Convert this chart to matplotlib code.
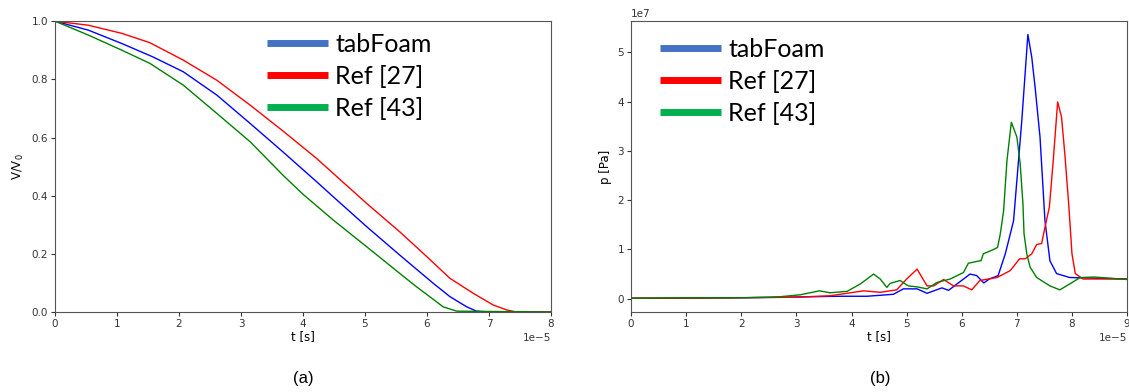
import matplotlib
matplotlib.use("Agg")
import matplotlib.pyplot as plt
from matplotlib.lines import Line2D
import numpy as np

# ---- Data (a): volume ratio V/V0 vs t (units 1e-5 s) ----
t_a_tab = [0, 0.54, 1.08, 1.57, 2.07, 2.61, 3.15, 3.68, 4.22, 4.49, 5.03, 5.56, 6.1, 6.37, 6.64, 6.8, 7.0, 8.0]
v_tab = [1.0, 0.969, 0.923, 0.878, 0.826, 0.746, 0.648, 0.55, 0.448, 0.396, 0.293, 0.196, 0.099, 0.053, 0.018, 0.003, 0.0, 0.0]
t_a_r27 = [0, 0.54, 1.08, 1.53, 2.07, 2.61, 3.15, 3.68, 4.22, 4.70, 5.03, 5.56, 6.0, 6.37, 6.75, 7.07, 7.29, 7.45, 8.0]
v_r27 = [1.0, 0.986, 0.958, 0.926, 0.866, 0.797, 0.711, 0.622, 0.528, 0.436, 0.373, 0.276, 0.19, 0.116, 0.064, 0.024, 0.007, 0.0, 0.0]
t_a_r43 = [0, 0.54, 1.08, 1.53, 2.07, 2.61, 3.15, 3.68, 4.0, 4.49, 5.03, 5.56, 5.83, 6.1, 6.26, 6.48, 8.0]
v_r43 = [1.0, 0.952, 0.90, 0.855, 0.78, 0.683, 0.585, 0.47, 0.405, 0.316, 0.224, 0.133, 0.087, 0.044, 0.018, 0.003, 0.0]

# ---- Data (b): pressure (units 1e7 Pa) vs t (units 1e-5 s) ----
t_b_tab = [0, 1, 2, 2.7, 3.79, 4.28, 4.76, 4.94, 5.19, 5.37, 5.64, 5.76, 6.15, 6.27, 6.4, 6.5, 6.66, 6.79, 6.94,
           7.09, 7.2, 7.27, 7.33, 7.42, 7.51, 7.6, 7.72, 7.96, 9.0]
p_tab = [0.01, 0.01, 0.02, 0.03, 0.05, 0.05, 0.09, 0.20, 0.20, 0.11, 0.22, 0.17, 0.50, 0.47, 0.32, 0.40, 0.47, 0.91, 1.58,
         3.62, 5.36, 4.9, 4.3, 3.28, 1.58, 0.77, 0.51, 0.43, 0.40]
t_b_r27 = [0, 1, 2, 3, 3.61, 4.22, 4.52, 4.82, 5.0, 5.19, 5.37, 5.49, 5.67, 5.85, 6.03, 6.18, 6.33, 6.64, 6.88,
           7.05, 7.15, 7.27, 7.36, 7.45, 7.51, 7.59, 7.66, 7.74, 7.81, 7.87, 7.94, 8.0, 8.06, 8.2, 9.0]
p_r27 = [0.01, 0.01, 0.02, 0.03, 0.06, 0.16, 0.13, 0.18, 0.40, 0.60, 0.26, 0.26, 0.39, 0.26, 0.26, 0.18, 0.37, 0.43, 0.57,
         0.81, 0.81, 0.91, 1.10, 1.12, 1.45, 1.86, 2.8, 3.99, 3.69, 2.94, 1.93, 0.91, 0.51, 0.40, 0.40]
t_b_r43 = [0, 1, 2, 2.5, 2.7, 3.07, 3.42, 3.61, 3.92, 4.16, 4.4, 4.52, 4.64, 4.7, 4.88, 5.03, 5.19, 5.37, 5.55,
           5.79, 6.03, 6.12, 6.33, 6.35, 6.39, 6.54, 6.65, 6.7, 6.76, 6.82, 6.9, 7.0, 7.06, 7.11, 7.13, 7.18,
           7.24, 7.36, 7.6, 7.78, 7.96, 8.15, 8.4, 9.0]
p_r43 = [0.01, 0.02, 0.02, 0.03, 0.04, 0.08, 0.16, 0.12, 0.15, 0.30, 0.50, 0.40, 0.23, 0.31, 0.37, 0.26, 0.24, 0.20, 0.33,
         0.40, 0.53, 0.72, 0.77, 0.77, 0.91, 0.98, 1.04, 1.32, 1.79, 2.8, 3.58, 3.28, 2.74, 1.93, 1.32, 0.91,
         0.64, 0.43, 0.26, 0.18, 0.30, 0.43, 0.44, 0.39]

legend_labels = ["tabFoam", "Ref [27]", "Ref [43]"]
legend_colors = ["#4472C4", "#FF0000", "#00B050"]
line_colors = ["blue", "red", "green"]

fig = plt.figure(figsize=(11.29, 3.92), dpi=100)
ax1 = fig.add_axes([0.0487, 0.204, 0.4393, 0.742])
ax2 = fig.add_axes([0.559, 0.204, 0.4393, 0.742])

sc = 1e-5
ax1.plot(np.array(t_a_tab) * sc, v_tab, color=line_colors[0], lw=1)
ax1.plot(np.array(t_a_r27) * sc, v_r27, color=line_colors[1], lw=1)
ax1.plot(np.array(t_a_r43) * sc, v_r43, color=line_colors[2], lw=1)
ax1.set_xlim(0, 8e-5)
ax1.set_ylim(0, 1.0)
ax1.set_xlabel("t [s]", fontsize=8.5, labelpad=1)
ax1.set_ylabel("V/V$_0$", fontsize=8.5)

ax2.plot(np.array(t_b_tab) * sc, np.array(p_tab) * 1e7, color=line_colors[0], lw=1)
ax2.plot(np.array(t_b_r27) * sc, np.array(p_r27) * 1e7, color=line_colors[1], lw=1)
ax2.plot(np.array(t_b_r43) * sc, np.array(p_r43) * 1e7, color=line_colors[2], lw=1)
ax2.set_xlim(0, 9e-5)
ax2.set_ylim(-0.27e7, 5.63e7)
ax2.set_xlabel("t [s]", fontsize=8.5, labelpad=1)
ax2.set_ylabel("p [Pa]", fontsize=8.5)

for ax in (ax1, ax2):
    ax.tick_params(labelsize=7.5, length=3, pad=2, colors="#333333")
    for s in ax.spines.values():
        s.set_color("#555555")
    ax.xaxis.get_offset_text().set_fontsize(7.5)
    ax.yaxis.get_offset_text().set_fontsize(7.5)

handles = [Line2D([], [], color=c, lw=5, solid_capstyle="butt") for c in legend_colors]
ax1.legend(handles, legend_labels, loc="upper left", bbox_to_anchor=(0.402, 1.002), frameon=False,
           prop={"family": "Lato", "size": 18}, handlelength=2.45, handletextpad=0.28, labelspacing=0.35,
           borderpad=0)
ax2.legend(handles, legend_labels, loc="upper left", bbox_to_anchor=(0.033, 0.985), frameon=False,
           prop={"family": "Lato", "size": 18}, handlelength=2.45, handletextpad=0.28, labelspacing=0.35,
           borderpad=0)

fig.text(303 / 1129, 1 - 378 / 392, "(a)", ha="center", va="center", fontsize=12, family="Liberation Sans")
fig.text(880 / 1129, 1 - 378 / 392, "(b)", ha="center", va="center", fontsize=12, family="Liberation Sans")

fig.savefig("out.png", dpi=100)
